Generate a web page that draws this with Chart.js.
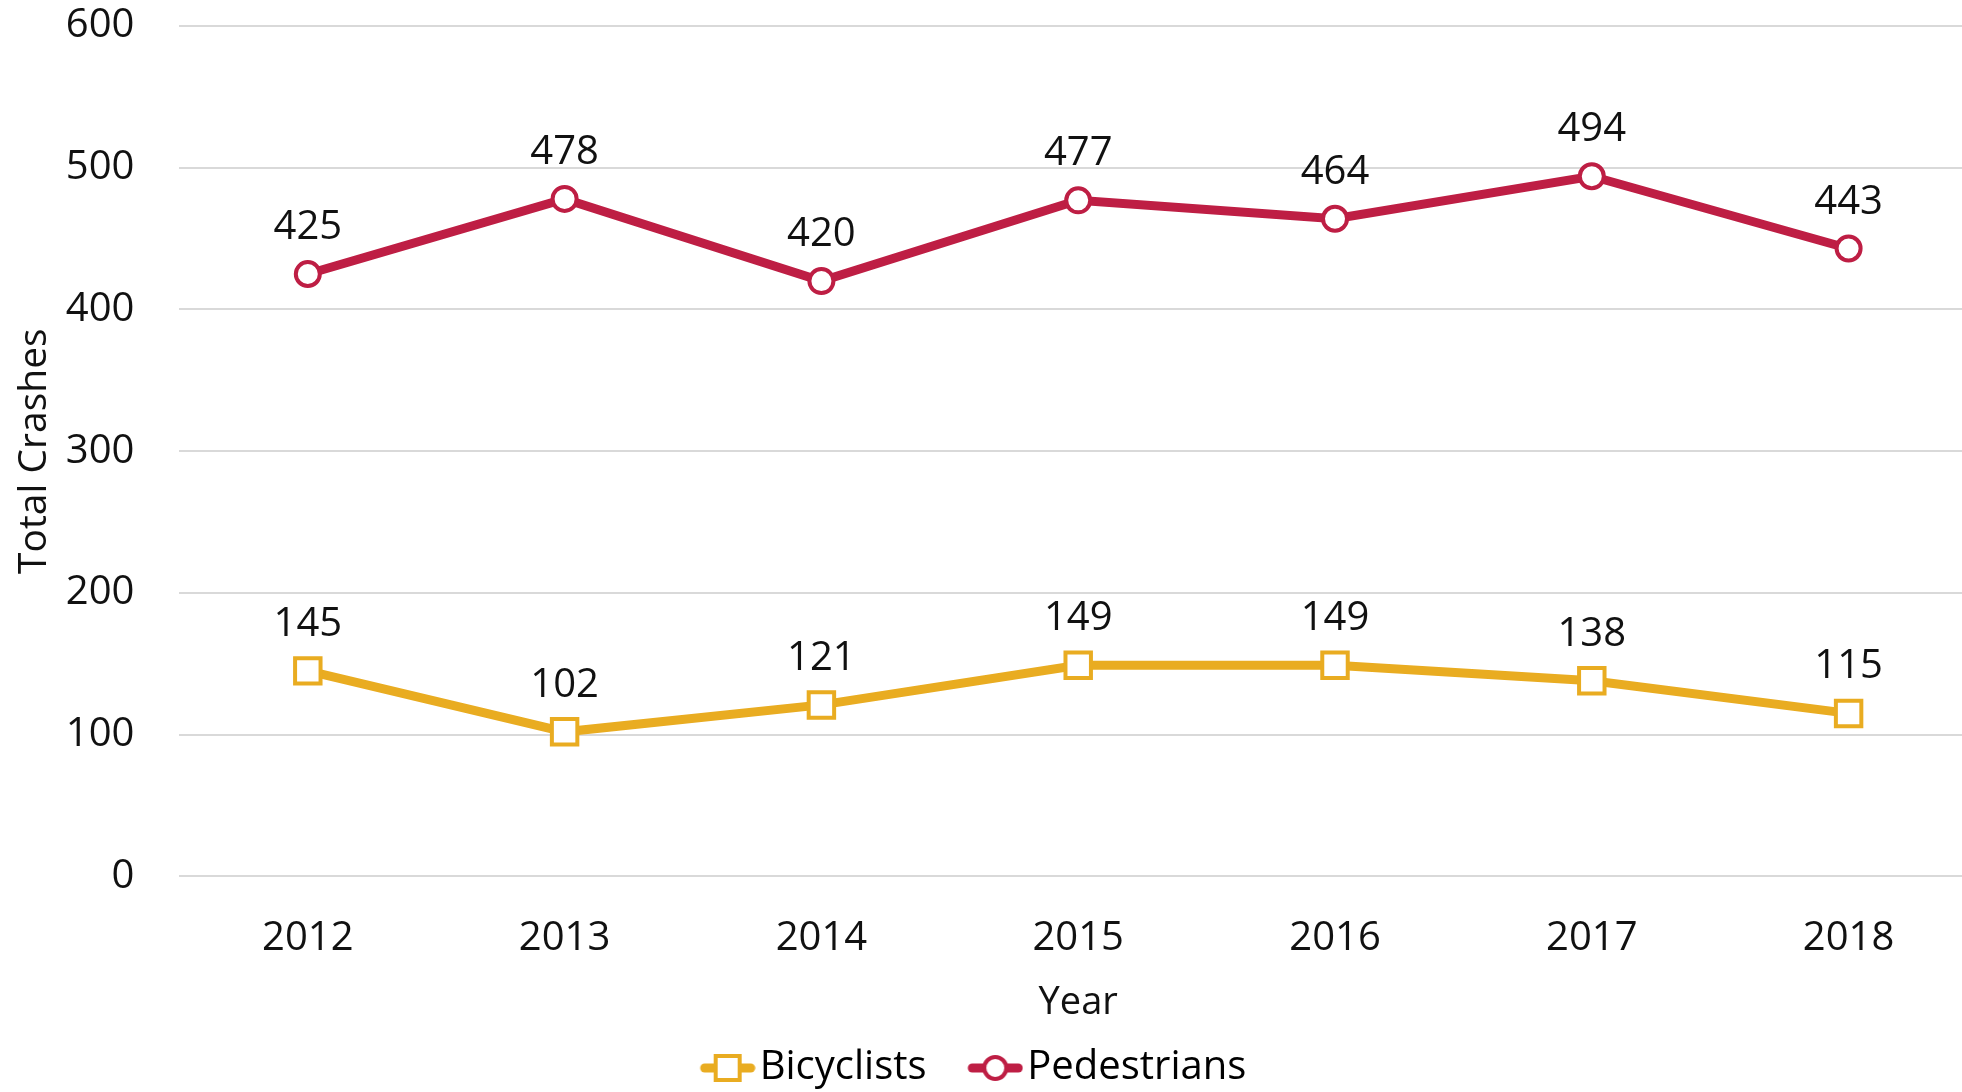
<!DOCTYPE html>
<html>
<head>
<meta charset="utf-8">
<script src="https://cdn.jsdelivr.net/npm/chart.js@4/dist/chart.umd.min.js"></script>
<style>
  html, body { margin: 0; padding: 0; background: #fff; overflow: hidden; }
  /* the plot runs a little past the right edge of the window */
  #wrap { width: 1977px; height: 1092px; }
</style>
</head>
<body>
<div id="wrap"><canvas id="chart"></canvas></div>
<script>
const years = ['2012', '2013', '2014', '2015', '2016', '2017', '2018']
const bicyclists = [145, 102, 121, 149, 149, 138, 115]
const pedestrians = [425, 478, 420, 477, 464, 494, 443]
const yTicks = [0, 100, 200, 300, 400, 500, 600]

const gold = '#E9AC21'
const crimson = '#BE1E44'
const fontFamily = "'Open Sans', 'Noto Sans', sans-serif"
const legendBox = 40

// line+marker picture for the legend, it hangs over the box so that
// it ends right before the text
function legendIcon(color, shape) {
  const c = document.createElement('canvas')
  c.width = 72
  c.height = 34
  const ctx = c.getContext('2d')
  const x0 = 16
  ctx.strokeStyle = color
  ctx.lineWidth = 9
  ctx.lineCap = 'round'
  ctx.beginPath()
  ctx.moveTo(x0 + 5, 17)
  ctx.lineTo(x0 + 51, 17)
  ctx.stroke()
  ctx.fillStyle = '#fff'
  ctx.lineWidth = 4
  ctx.beginPath()
  if (shape === 'rect') {
    ctx.rect(x0 + 16, 5, 24, 24)
  } else {
    ctx.arc(x0 + 28, 17, 11, 0, Math.PI * 2)
  }
  ctx.fill()
  ctx.stroke()
  return c
}

// draws the value above every point
const valueLabels = {
  id: 'valueLabels',
  afterDatasetsDraw(chart) {
    const ctx = chart.ctx
    ctx.save()
    ctx.font = `40px ${fontFamily}`
    ctx.fillStyle = '#111'
    ctx.textAlign = 'center'
    ctx.textBaseline = 'alphabetic'
    chart.data.datasets.forEach((ds, i) => {
      const meta = chart.getDatasetMeta(i)
      meta.data.forEach((pt, j) => {
        ctx.fillText(ds.data[j], pt.x, pt.y - 35)
      })
    })
    ctx.restore()
  }
}

// canvas is wider than the window, so pull the legend back to the middle
const legendShift = {
  id: 'legendShift',
  afterLayout(chart) {
    chart.legend.left -= 21
    chart.legend.right -= 21
  }
}

const ctx = document.getElementById('chart').getContext('2d')
new Chart(ctx, {
  type: 'line',
  data: {
    labels: years,
    datasets: [{
      label: 'Bicyclists',
      data: bicyclists,
      borderColor: gold,
      backgroundColor: '#fff',
      borderWidth: 9,
      pointStyle: 'rect',
      pointRadius: 18,
      pointBorderWidth: 4,
      pointBorderColor: gold,
      pointBackgroundColor: '#fff',
      tension: 0
    }, {
      label: 'Pedestrians',
      data: pedestrians,
      borderColor: crimson,
      backgroundColor: '#fff',
      borderWidth: 9,
      pointStyle: 'circle',
      pointRadius: 12,
      pointBorderWidth: 4,
      pointBorderColor: crimson,
      pointBackgroundColor: '#fff',
      tension: 0
    }]
  },
  options: {
    responsive: true,
    maintainAspectRatio: false,
    animation: false,
    layout: {
      autoPadding: false,
      padding: { top: 0, right: 0, left: 11, bottom: -6 }
    },
    plugins: {
      tooltip: { enabled: false },
      legend: {
        position: 'bottom',
        labels: {
          color: '#111',
          font: { family: fontFamily, size: 40 },
          usePointStyle: true,
          pointStyleWidth: legendBox,
          padding: 20,
          generateLabels(chart) {
            const n = chart.data.datasets.length
            return chart.data.datasets.map((ds, i) => ({
              // a little extra room after every item but the last
              text: i < n - 1 ? ds.label + '  ' : ds.label,
              pointStyle: legendIcon(ds.borderColor, ds.pointStyle),
              fillStyle: ds.borderColor,
              strokeStyle: ds.borderColor,
              lineWidth: 0,
              hidden: false,
              datasetIndex: i
            }))
          }
        }
      }
    },
    scales: {
      x: {
        offset: true,
        grid: { display: false, drawTicks: false },
        border: { display: false },
        ticks: {
          color: '#111',
          font: { family: fontFamily, size: 40 },
          padding: 38
        },
        title: {
          display: true,
          text: 'Year',
          color: '#111',
          font: { family: fontFamily, size: 38 },
          padding: { top: 18, bottom: 2 }
        },
        afterFit(axis) {
          // chart.js counts the tick padding twice here
          axis.height -= axis.options.ticks.padding
        }
      },
      y: {
        min: 0,
        max: 600,
        afterBuildTicks(axis) {
          axis.ticks = yTicks.map((v) => ({ value: v }))
        },
        grid: { color: '#d9d9d9', lineWidth: 2, drawTicks: false },
        border: { display: false },
        ticks: {
          color: '#111',
          font: { family: fontFamily, size: 40 },
          padding: 45
        },
        title: {
          display: true,
          text: 'Total Crashes',
          color: '#111',
          font: { family: fontFamily, size: 39 },
          padding: { top: 0, bottom: 8 }
        },
        afterFit(axis) {
          const pad = axis.options.ticks.padding
          axis.width -= pad
          axis.paddingTop -= pad - 2
          axis.paddingBottom -= pad
        }
      }
    }
  },
  plugins: [valueLabels, legendShift]
})
</script>
</body>
</html>
